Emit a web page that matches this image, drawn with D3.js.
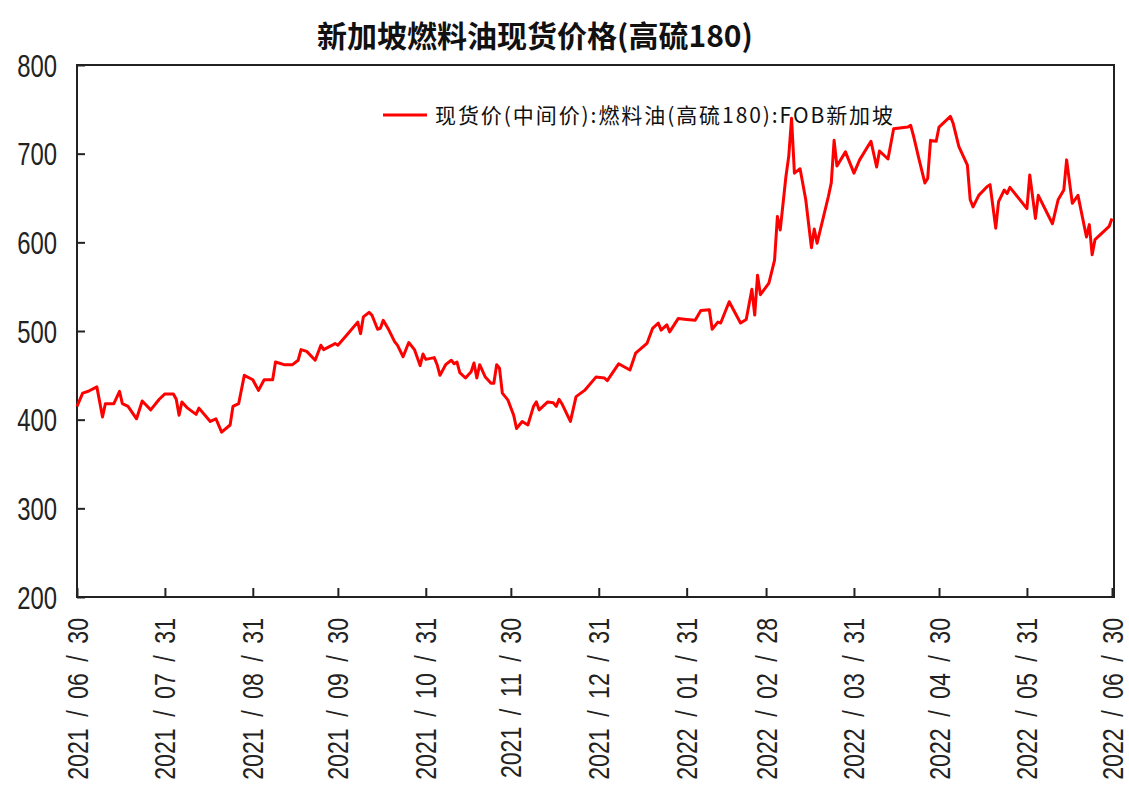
<!DOCTYPE html>
<html>
<head>
<meta charset="utf-8">
<script src="https://cdn.jsdelivr.net/npm/d3@7/dist/d3.min.js"></script>
<style>
  body { margin: 0; background: #fff; }
  svg { display: block; }
</style>
</head>
<body>
<svg id="chart" width="1129" height="798"></svg>
<script>
var titleText = '新加坡燃料油现货价格(高硫180)';
var seriesName = '现货价(中间价):燃料油(高硫180):FOB新加坡';

var dates = [
  '2021-06-30', '2021-07-02', '2021-07-04', '2021-07-07', '2021-07-09', '2021-07-10', '2021-07-13', '2021-07-15',
  '2021-07-16', '2021-07-18', '2021-07-21', '2021-07-23', '2021-07-26', '2021-07-29', '2021-07-31', '2021-08-03',
  '2021-08-04', '2021-08-05', '2021-08-06', '2021-08-08', '2021-08-11', '2021-08-12', '2021-08-16', '2021-08-18',
  '2021-08-20', '2021-08-23', '2021-08-24', '2021-08-26', '2021-08-28', '2021-08-31', '2021-09-02', '2021-09-04',
  '2021-09-07', '2021-09-08', '2021-09-11', '2021-09-14', '2021-09-16', '2021-09-17', '2021-09-19', '2021-09-22',
  '2021-09-24', '2021-09-25', '2021-09-28', '2021-09-29', '2021-09-30', '2021-10-03', '2021-10-07', '2021-10-08',
  '2021-10-09', '2021-10-11', '2021-10-12', '2021-10-14', '2021-10-15', '2021-10-16', '2021-10-18', '2021-10-20',
  '2021-10-21', '2021-10-23', '2021-10-25', '2021-10-27', '2021-10-29', '2021-10-30', '2021-10-31', '2021-11-03',
  '2021-11-04', '2021-11-05', '2021-11-07', '2021-11-09', '2021-11-10', '2021-11-11', '2021-11-12', '2021-11-14',
  '2021-11-16', '2021-11-17', '2021-11-18', '2021-11-19', '2021-11-21', '2021-11-23', '2021-11-24', '2021-11-25',
  '2021-11-26', '2021-11-27', '2021-11-29', '2021-12-01', '2021-12-02', '2021-12-04', '2021-12-06', '2021-12-08',
  '2021-12-09', '2021-12-10', '2021-12-13', '2021-12-15', '2021-12-16', '2021-12-17', '2021-12-18', '2021-12-21',
  '2021-12-23', '2021-12-26', '2021-12-30', '2022-01-02', '2022-01-03', '2022-01-07', '2022-01-11', '2022-01-13',
  '2022-01-17', '2022-01-19', '2022-01-21', '2022-01-22', '2022-01-24', '2022-01-25', '2022-01-28', '2022-01-31',
  '2022-02-03', '2022-02-05', '2022-02-08', '2022-02-09', '2022-02-11', '2022-02-12', '2022-02-15', '2022-02-19',
  '2022-02-21', '2022-02-23', '2022-02-24', '2022-02-25', '2022-02-26', '2022-03-01', '2022-03-03', '2022-03-04',
  '2022-03-05', '2022-03-07', '2022-03-08', '2022-03-09', '2022-03-10', '2022-03-12', '2022-03-14', '2022-03-16',
  '2022-03-17', '2022-03-18', '2022-03-22', '2022-03-23', '2022-03-24', '2022-03-25', '2022-03-28', '2022-03-31',
  '2022-04-02', '2022-04-06', '2022-04-08', '2022-04-09', '2022-04-12', '2022-04-14', '2022-04-19', '2022-04-20',
  '2022-04-21', '2022-04-23', '2022-04-25', '2022-04-26', '2022-04-27', '2022-04-29', '2022-04-30', '2022-05-04',
  '2022-05-05', '2022-05-07', '2022-05-10', '2022-05-11', '2022-05-12', '2022-05-14', '2022-05-17', '2022-05-18',
  '2022-05-20', '2022-05-21', '2022-05-23', '2022-05-24', '2022-05-25', '2022-05-31', '2022-06-01', '2022-06-03',
  '2022-06-04', '2022-06-09', '2022-06-11', '2022-06-13', '2022-06-14', '2022-06-16', '2022-06-18', '2022-06-21',
  '2022-06-22', '2022-06-23', '2022-06-24', '2022-06-29', '2022-06-30'
];

var prices = [
  415, 430, 432, 437, 403, 418, 418, 432,
  418, 415, 401, 421, 411, 423, 429, 429,
  423, 405, 420, 413, 406, 413, 398, 401,
  386, 394, 415, 418, 450, 445, 433, 445,
  445, 465, 462, 462, 467, 479, 477, 467,
  484, 479, 484, 486, 484, 495, 510, 497,
  516, 521, 518, 502, 503, 512, 501, 488,
  484, 471, 487, 479, 461, 474, 468, 470,
  462, 450, 462, 467, 463, 465, 453, 447,
  454, 464, 447, 462, 448, 441, 441, 462,
  458, 430, 422, 405, 390, 398, 394, 415,
  420, 411, 420, 419, 415, 423, 418, 398,
  426, 433, 448, 447, 444, 463, 456, 475,
  486, 503, 509, 501, 507, 499, 514, 513,
  512, 523, 524, 502, 510, 509, 533, 509,
  513, 547, 518, 563, 541, 554, 580, 629,
  614, 674, 697, 740, 678, 683, 648, 594,
  615, 599, 652, 667, 715, 686, 702, 678,
  693, 714, 685, 703, 694, 728, 730, 732,
  720, 693, 667, 672, 715, 714, 730, 742,
  734, 708, 687, 648, 640, 653, 663, 665,
  616, 646, 659, 655, 662, 638, 676, 627,
  653, 621, 648, 659, 693, 644, 653, 606,
  620, 586, 603, 618, 627
];

var yTicks = [200, 300, 400, 500, 600, 700, 800];
var xTicks = [
  '2021-06-30', '2021-07-31', '2021-08-31', '2021-09-30', '2021-10-31', '2021-11-30', '2021-12-31',
  '2022-01-31', '2022-02-28', '2022-03-31', '2022-04-30', '2022-05-31', '2022-06-30'
];

var parseDate = d3.timeParse('%Y-%m-%d');
var fmtDate = d3.timeFormat('%Y/%m/%d');
var numFont = "'Liberation Sans', Arial, sans-serif";
var cjkFont = "'Noto Sans CJK SC', 'Noto Sans', sans-serif";
var squeeze = 0.77; // tick labels in the original are a narrow face

var plot = { left: 77, right: 1114, top: 65, bottom: 597 };

var svg = d3.select('#chart');

var x = d3.scaleTime()
  .domain([parseDate('2021-06-30'), parseDate('2022-06-30')])
  .range([plot.left, 1112]);

var y = d3.scaleLinear()
  .domain([200, 800])
  .range([plot.bottom, plot.top]);

var series = dates.map(function(d, i) {
  return { date: parseDate(d), value: prices[i] };
});

// title
svg.append('text')
  .attr('x', 535)
  .attr('y', 47)
  .attr('text-anchor', 'middle')
  .attr('font-family', cjkFont)
  .attr('font-weight', 'bold')
  .attr('font-size', 30)
  .attr('fill', '#111')
  .text(titleText);

// frame
svg.append('rect')
  .attr('x', plot.left)
  .attr('y', plot.top)
  .attr('width', plot.right - plot.left)
  .attr('height', plot.bottom - plot.top)
  .attr('fill', 'none')
  .attr('stroke', '#222')
  .attr('stroke-width', 2);

// y axis
var yAxis = svg.append('g')
  .attr('transform', 'translate(' + plot.left + ',0)')
  .call(d3.axisLeft(y).tickValues(yTicks).tickSize(-8));

yAxis.select('.domain').remove();
yAxis.selectAll('.tick line').attr('stroke', '#222').attr('stroke-width', 2);
yAxis.selectAll('.tick text')
  .attr('x', 0)
  .attr('dy', '0.36em')
  .attr('text-anchor', 'end')
  .attr('transform', 'translate(-20,0) scale(' + squeeze + ',1)')
  .attr('font-family', numFont)
  .attr('font-size', 31)
  .attr('fill', '#222');

// x axis
var xAxis = svg.append('g')
  .attr('transform', 'translate(0,' + plot.bottom + ')')
  .call(d3.axisBottom(x).tickValues(xTicks.map(parseDate)).tickSize(-9));

xAxis.select('.domain').remove();
xAxis.selectAll('.tick line').attr('stroke', '#222').attr('stroke-width', 2);
xAxis.selectAll('.tick text').each(function(d) {
  var t = d3.select(this);
  var parts = fmtDate(d).split('/');
  t.text(null)
    .attr('x', 0)
    .attr('y', 0)
    .attr('dy', null)
    .attr('text-anchor', 'end')
    .attr('transform', 'translate(10,21) rotate(-90) scale(' + squeeze + ',1)')
    .attr('font-family', numFont)
    .attr('font-size', 30)
    .attr('fill', '#222');
  parts.forEach(function(p, i) {
    if (i > 0) {
      t.append('tspan').attr('dx', 15).text('/');
      t.append('tspan').attr('dx', 15).text(p);
    } else {
      t.append('tspan').text(p);
    }
  });
});

// line
var line = d3.line()
  .x(function(d) { return x(d.date); })
  .y(function(d) { return y(d.value); });

svg.append('path')
  .datum(series)
  .attr('fill', 'none')
  .attr('stroke', '#ff0000')
  .attr('stroke-width', 3)
  .attr('stroke-linejoin', 'round')
  .attr('d', line);

// legend
var legend = svg.append('g').attr('transform', 'translate(383,115)');

legend.append('line')
  .attr('x1', 0)
  .attr('x2', 44)
  .attr('stroke', '#ff0000')
  .attr('stroke-width', 3);

legend.append('text')
  .attr('x', 52)
  .attr('y', 8)
  .attr('font-family', cjkFont)
  .attr('font-size', 21)
  .attr('fill', '#111')
  .attr('textLength', 458)
  .attr('lengthAdjust', 'spacing')
  .text(seriesName);
</script>
</body>
</html>
